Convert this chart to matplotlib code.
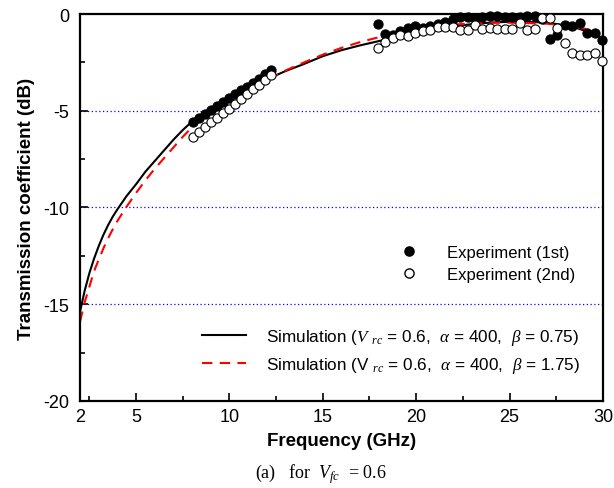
import matplotlib
matplotlib.use("Agg")
import matplotlib.pyplot as plt
from matplotlib.lines import Line2D
from matplotlib.ticker import MultipleLocator, FixedLocator

plt.rcParams["font.family"] = ["Liberation Sans", "DejaVu Sans"]
plt.rcParams["axes.unicode_minus"] = False
plt.rcParams["mathtext.fontset"] = "custom"
plt.rcParams["mathtext.rm"] = "Liberation Sans"
plt.rcParams["mathtext.it"] = "Liberation Serif:italic"
plt.rcParams["mathtext.bf"] = "Liberation Sans:bold"

# Simulation curves
sim_freq = [2.0, 2.25, 2.5, 2.75, 3.0, 3.25, 3.5, 3.75, 4.0, 4.5, 5.0, 5.5,
            6.0, 6.5, 7.0, 7.5, 8.0, 9.0, 10.0, 11.0, 12.0, 13.0, 14.0, 15.0,
            16.0, 17.0, 18.0, 19.0, 20.0, 21.0, 22.0, 23.0, 24.0, 25.0, 26.0,
            27.0, 28.0, 28.5, 29.0, 29.5, 30.0]
sim_b075 = [-15.4, -14.3, -13.4, -12.65, -12.0, -11.42, -10.92, -10.48, -10.1,
            -9.4, -8.8, -8.15, -7.6, -7.05, -6.5, -6.0, -5.55, -4.9, -4.35,
            -3.85, -3.38, -2.95, -2.58, -2.18, -1.87, -1.62, -1.4, -1.18,
            -0.98, -0.8, -0.64, -0.52, -0.44, -0.4, -0.4, -0.45, -0.58, -0.7,
            -0.85, -1.05, -1.3]
sim_b175 = [-15.9, -14.9, -14.1, -13.3, -12.7, -12.12, -11.6, -11.13, -10.7,
            -9.95, -9.25, -8.6, -8.0, -7.45, -6.9, -6.35, -5.85, -5.05, -4.45,
            -3.9, -3.4, -2.92, -2.5, -2.1, -1.75, -1.45, -1.2, -0.98, -0.8,
            -0.65, -0.55, -0.48, -0.45, -0.45, -0.47, -0.5, -0.6, -0.68,
            -0.75, -0.95, -1.45]

# Experiment, low band
exp_freq_lo = [8.07, 8.39, 8.70, 9.02, 9.34, 9.66, 9.98, 10.30, 10.61, 10.93,
               11.25, 11.57, 11.88, 12.2]
exp1_lo = [-5.6, -5.35, -5.15, -4.95, -4.75, -4.55, -4.35, -4.15, -3.95,
           -3.75, -3.55, -3.35, -3.1, -2.9]
exp2_lo = [-6.35, -6.1, -5.85, -5.6, -5.35, -5.1, -4.9, -4.65, -4.4, -4.15,
           -3.9, -3.65, -3.4, -3.15]

# Experiment, high band
exp_freq_hi = [17.95, 18.35, 18.75, 19.15, 19.55, 19.95, 20.35, 20.75, 21.15,
               21.55, 21.95, 22.35, 22.75, 23.15, 23.55, 23.95, 24.35, 24.75,
               25.15, 25.55, 25.95, 26.35, 26.75, 27.15, 27.55, 27.95, 28.35,
               28.75, 29.15, 29.55, 29.95]
exp1_hi = [-0.5, -1.03, -1.1, -0.88, -0.73, -0.62, -0.71, -0.6, -0.52, -0.43,
           -0.24, -0.17, -0.15, -0.2, -0.15, -0.12, -0.12, -0.15, -0.14,
           -0.15, -0.12, -0.12, -0.25, -1.27, -1.1, -0.57, -0.64, -0.46,
           -0.97, -0.97, -1.32]
exp2_hi = [-1.75, -1.45, -1.23, -1.1, -1.12, -0.97, -0.9, -0.82, -0.69, -0.69,
           -0.67, -0.82, -0.82, -0.56, -0.75, -0.72, -0.75, -0.75, -0.77,
           -0.48, -0.82, -0.76, -0.22, -0.19, -0.73, -1.49, -2.04, -2.1,
           -2.13, -2.03, -2.45]

grid_levels = [-5, -10, -15]
x_major = [2, 5, 10, 15, 20, 25, 30]

fig = plt.figure(figsize=(6.14, 4.89), dpi=100)
ax = fig.add_axes([0.1303, 0.178, 0.8517, 0.7913])

for g in grid_levels:
    ax.axhline(g, color="blue", linestyle=(0, (1, 2)), linewidth=0.9, zorder=1)

ax.plot(sim_freq, sim_b075, color="black", linewidth=1.5, zorder=2)
ax.plot(sim_freq, sim_b175, color="red", linewidth=1.5,
        linestyle=(0, (5, 3.5)), zorder=2)

ms = 6.6
mk = dict(marker="o", linestyle="none", markersize=ms, markeredgewidth=0.8,
          markeredgecolor="black", clip_on=False)
ax.plot(exp_freq_lo, exp1_lo, markerfacecolor="black", zorder=3, **mk)
ax.plot(exp_freq_hi, exp1_hi, markerfacecolor="black", zorder=3, **mk)
ax.plot(exp_freq_lo, exp2_lo, markerfacecolor="white", zorder=4, **mk)
ax.plot(exp_freq_hi, exp2_hi, markerfacecolor="white", zorder=4, **mk)

ax.set_xlim(2, 30)
ax.set_ylim(-20, 0)
ax.xaxis.set_major_locator(FixedLocator(x_major))
ax.xaxis.set_minor_locator(MultipleLocator(2.5))
ax.yaxis.set_major_locator(MultipleLocator(5))
ax.yaxis.set_minor_locator(MultipleLocator(2.5))
ax.tick_params(which="both", direction="in", labelsize=13)
ax.tick_params(which="major", length=6, width=1.2)
ax.tick_params(which="minor", length=3.5, width=1.2)
ax.tick_params(axis="x", pad=5)
ax.tick_params(axis="y", pad=8)
for s in ax.spines.values():
    s.set_linewidth(1.6)

ax.set_xlabel("Frequency (GHz)", fontsize=13.5, fontweight="bold", labelpad=5)
ax.set_ylabel("Transmission coefficient (dB)", fontsize=13.5,
              fontweight="bold", labelpad=6)

# Experiment legend
h_exp = [
    Line2D([], [], marker="o", linestyle="none", markersize=ms,
           markerfacecolor="black", markeredgecolor="black"),
    Line2D([], [], marker="o", linestyle="none", markersize=ms,
           markerfacecolor="white", markeredgecolor="black"),
]
leg1 = ax.legend(h_exp, ["Experiment (1st)", "Experiment (2nd)"],
                 loc="center left", bbox_to_anchor=(0.5966, 0.355),
                 frameon=False, fontsize=12, handlelength=2.0,
                 handletextpad=1.3, borderpad=0, borderaxespad=0,
                 labelspacing=0.4)
ax.add_artist(leg1)

# Simulation legend
h_sim = [
    Line2D([], [], color="black", linewidth=1.5),
    Line2D([], [], color="red", linewidth=1.5, linestyle=(0, (5, 3.5))),
]
lab_sim = [
    r"Simulation ($V$ $_{rc}$ = 0.6,  $\alpha$ = 400,  $\beta$ = 0.75)",
    r"Simulation (V $_{rc}$ = 0.6,  $\alpha$ = 400,  $\beta$ = 1.75)",
]
ax.legend(h_sim, lab_sim, loc="center left", bbox_to_anchor=(0.233, 0.129),
          frameon=False, fontsize=12.3, handlelength=2.6, handletextpad=1.15,
          borderpad=0, borderaxespad=0, labelspacing=0.5)

fig.text(0.415, 0.031, r"(a)   for  $V_{fc}$  = 0.6", fontsize=13,
         family="Liberation Serif", ha="left", va="center")

fig.savefig("out.png", dpi=100)
